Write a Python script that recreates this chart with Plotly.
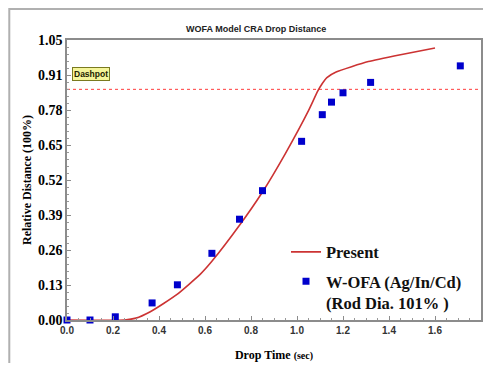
import plotly.graph_objects as go

# ---- data ----
present_t = [0.0, 0.25, 0.30, 0.36, 0.42, 0.48, 0.58, 0.63, 0.75, 0.85, 0.95, 1.05, 1.09, 1.11, 1.13, 1.17, 1.31, 1.45, 1.60]
present_d = [0.0, 0.0, 0.007, 0.03, 0.062, 0.097, 0.172, 0.22, 0.355, 0.48, 0.625, 0.785, 0.858, 0.887, 0.909, 0.93, 0.969, 0.995, 1.02]

wofa_t = [0.0, 0.10, 0.21, 0.37, 0.48, 0.63, 0.75, 0.85, 1.02, 1.11, 1.15, 1.20, 1.32, 1.71]
wofa_d = [0.0, 0.0, 0.012, 0.064, 0.132, 0.25, 0.378, 0.485, 0.67, 0.77, 0.817, 0.852, 0.891, 0.953]

dashpot_level = 0.865

y_tickvals = [k * 1.05 / 8 for k in range(9)]
y_ticktext = ["0.00", "0.13", "0.26", "0.39", "0.52", "0.65", "0.78", "0.91", "1.05"]
x_tickvals = [0.0, 0.2, 0.4, 0.6, 0.8, 1.0, 1.2, 1.4, 1.6, 1.8]
x_ticktext = ["0.0", "0.2", "0.4", "0.6", "0.8", "1.0", "1.2", "1.4", "1.6", "1.8"]

SERIF = "Liberation Serif, Times New Roman, serif"
SANS = "Liberation Sans, Arial, sans-serif"

fig = go.Figure()
fig.add_trace(go.Scatter(
    x=present_t, y=present_d, mode="lines", name="<b>Present</b>", legendgroup="a",
    line=dict(color="#cc3333", width=1.6, shape="spline", smoothing=0.5),
))
fig.add_trace(go.Scatter(
    x=wofa_t, y=wofa_d, mode="markers", legendgroup="b",
    name="<b>W-OFA (Ag/In/Cd)</b><br><b>(Rod Dia. 101% )</b>",
    marker=dict(symbol="square", size=7, color="#0000cc"),
    cliponaxis=False,
))

fig.update_layout(
    width=476, height=355,
    margin=dict(l=59, r=1, t=32, b=43),
    paper_bgcolor="white", plot_bgcolor="white",
    showlegend=True,
    legend=dict(
        x=0.529, y=0.305, xanchor="left", yanchor="top", valign="top",
        font=dict(family=SERIF, size=16.5, color="#111111"),
        bgcolor="rgba(0,0,0,0)", tracegroupgap=5, itemsizing="trace",
    ),
    xaxis=dict(
        range=[0, 1.8], tickvals=x_tickvals, ticktext=x_ticktext,
        showgrid=False, zeroline=False,
        showline=True, linecolor="#8c8c8c", linewidth=1.5, mirror=True,
        ticks="inside", ticklen=4, tickcolor="#8c8c8c",
        minor=dict(dtick=0.05, ticks="inside", ticklen=2, tickcolor="#999999"),
        tickfont=dict(family=SANS, size=10, color="#333333", weight="bold"),
        title=dict(text="<b>Drop Time</b> <b><span style='font-size:10px'>(sec)</span></b>",
                   font=dict(family=SERIF, size=12, color="black"), standoff=16),
    ),
    yaxis=dict(
        range=[0, 1.05], tickvals=y_tickvals, ticktext=y_ticktext,
        showgrid=False, zeroline=False,
        showline=True, linecolor="#8c8c8c", linewidth=1.5, mirror=True,
        ticks="inside", ticklen=4, tickcolor="#8c8c8c",
        minor=dict(dtick=1.05 / 40, ticks="inside", ticklen=2, tickcolor="#999999"),
        tickfont=dict(family=SERIF, size=14, color="black", weight="bold"),
        title=dict(text="<b>Relative Distance (100%)</b>",
                   font=dict(family=SERIF, size=12, color="black"), standoff=4),
    ),
    annotations=[
        dict(text="<b>WOFA Model CRA Drop Distance</b>", xref="paper", yref="paper",
             x=0.457, y=1.039, xanchor="center", yanchor="middle", showarrow=False,
             font=dict(family=SANS, size=9, color="#222222")),
        dict(text="<b>Dashpot</b>", xref="paper", yref="paper",
             x=0.059, y=0.879, xanchor="center", yanchor="middle", showarrow=False,
             font=dict(family=SANS, size=8.5, color="#222200"),
             bgcolor="#f5f59a", bordercolor="#7a7a20", borderwidth=1, borderpad=1),
    ],
    shapes=[
        dict(type="rect", xref="paper", yref="paper",
             x0=-0.1394, y0=-0.5, x1=1.2, y1=1.1107,
             line=dict(color="#b0b0b0", width=2, dash="solid"), layer="below"),
        dict(type="line", xref="paper", yref="y",
             x0=0, x1=1, y0=dashpot_level, y1=dashpot_level,
             line=dict(color="#ff3b3b", width=1, dash="dot"), layer="below"),
    ],
)

fig.write_html("out.html")
